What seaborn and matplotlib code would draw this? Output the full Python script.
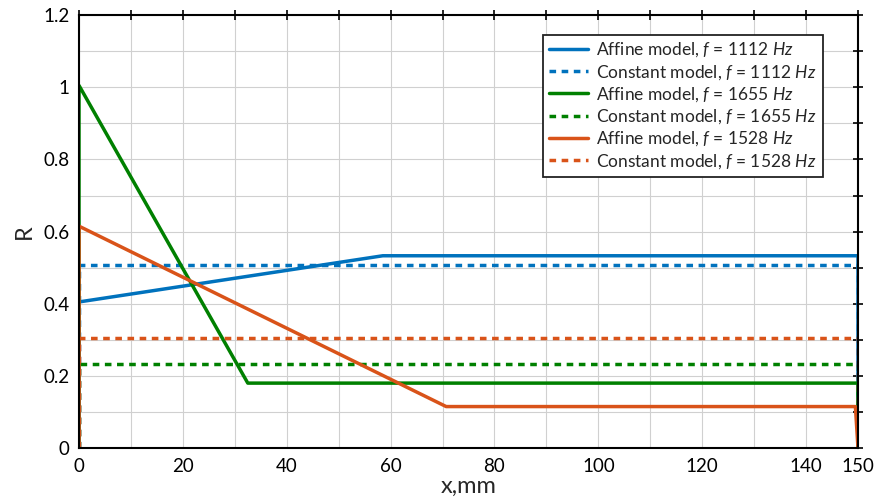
import numpy as np
import pandas as pd
import seaborn as sns
import matplotlib.pyplot as plt
from matplotlib.ticker import FixedLocator, MultipleLocator, FuncFormatter

# Data (x in mm, R)
affine_1112_x = [0, 0, 58.5, 150, 150]
affine_1112_y = [0, 0.405, 0.533, 0.533, 0]
const_1112 = 0.507

affine_1655_x = [0, 0, 32.5, 150, 150]
affine_1655_y = [0, 1.005, 0.18, 0.18, 0]
const_1655 = 0.232

affine_1528_x = [0, 0, 70.7, 149.5, 150]
affine_1528_y = [0, 0.615, 0.115, 0.115, 0]
const_1528 = 0.305

freqs = ['1112', '1655', '1528']
colors = ['#0072BD', '#008000', '#D95319']

sns.set_style('white')
plt.rcParams['font.family'] = ['Lato', 'DejaVu Sans']
plt.rcParams['mathtext.fontset'] = 'custom'
plt.rcParams['mathtext.it'] = 'Lato:italic'
plt.rcParams['mathtext.rm'] = 'Lato'

affines = [(affine_1112_x, affine_1112_y), (affine_1655_x, affine_1655_y), (affine_1528_x, affine_1528_y)]
consts = [const_1112, const_1655, const_1528]

fig = plt.figure(figsize=(8.74, 5.04), dpi=100)
ax = fig.add_axes([0.0904, 0.111, 0.8913, 0.859])

for f, (xs, ys), c, col in zip(freqs, affines, consts, colors):
    tag = r'$\mathit{f}$ = $\mathit{' + f + r'\ Hz}$'
    # affine model
    sns.lineplot(x=xs, y=ys, sort=False, estimator=None, color=col, lw=2.5,
                 label='Affine model, ' + tag, ax=ax)
    # constant model
    sns.lineplot(x=[0, 0, 150, 150], y=[0, c, c, 0], sort=False, estimator=None,
                 color=col, lw=2.5, linestyle=(0, (1.9, 1.6)),
                 label='Constant model, ' + tag, ax=ax)

ax.set_xlim(0, 150)
ax.set_ylim(0, 1.2)
ax.xaxis.set_major_locator(FixedLocator([0, 20, 40, 60, 80, 100, 120, 140, 150]))
ax.xaxis.set_minor_locator(FixedLocator([10, 30, 50, 70, 90, 110, 130]))
ax.yaxis.set_major_locator(MultipleLocator(0.2))
ax.yaxis.set_minor_locator(MultipleLocator(0.1))
ax.yaxis.set_major_formatter(FuncFormatter(lambda v, p: f'{v:g}'))
ax.grid(True, which='both', color='#d0d0d0', linewidth=0.8)
ax.set_axisbelow(True)
ax.tick_params(which='both', direction='inout', length=7, width=1.2,
               top=True, right=True, labelsize=13.5, colors='black')
for s in ax.spines.values():
    s.set_color('black')
    s.set_linewidth(1.5)

ax.set_xlabel('x,mm', fontsize=17, labelpad=1)
ax.set_ylabel('R', fontsize=17, labelpad=6)

leg = ax.legend(loc='upper right', bbox_to_anchor=(0.966, 0.975), fontsize=12.5,
                frameon=True, fancybox=False, handlelength=2.2,
                borderpad=0.35, labelspacing=0.2, handletextpad=0.5)
leg.get_frame().set_edgecolor('#222222')
leg.get_frame().set_linewidth(1.3)
leg.get_frame().set_alpha(1)

fig.savefig('out.png', dpi=100)
